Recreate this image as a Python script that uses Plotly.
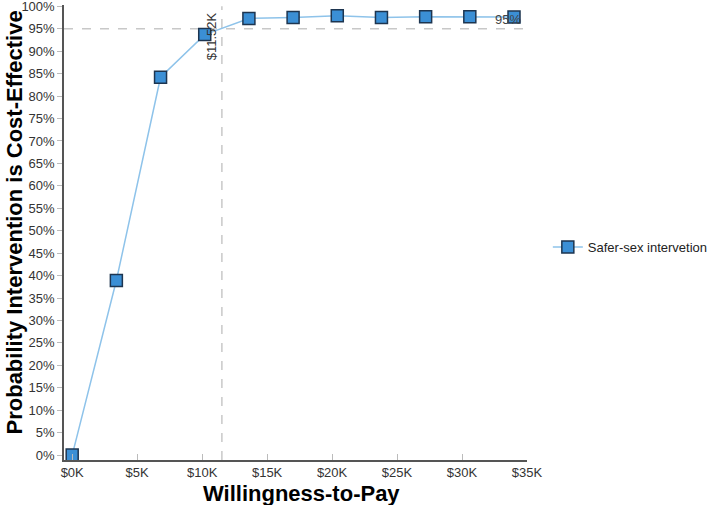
import plotly.graph_objects as go

# ── Data ──────────────────────────────────────────────────────────────────────
wtp_k = [0, 3.4, 6.8, 10.2, 13.6, 17.0, 20.4, 23.8, 27.2, 30.6, 34.0]
prob_ce = [0.0, 0.389, 0.842, 0.937, 0.973, 0.975, 0.979, 0.975, 0.977, 0.977, 0.976]
series_name = "Safer-sex intervetion"

threshold_prob = 0.95
threshold_wtp = 11.52

x_ticks = [0, 5, 10, 15, 20, 25, 30, 35]
x_labels = ["$0K", "$5K", "$10K", "$15K", "$20K", "$25K", "$30K", "$35K"]
y_ticks = [i / 100 for i in range(0, 101, 5)]
y_labels = [f"{i}%" for i in range(0, 101, 5)]

# ── Style ─────────────────────────────────────────────────────────────────────
_FONT = "Liberation Sans, Arial, sans-serif"
_LINE = "#8ec3ea"
_MARK = "#3b8fd5"
_MARK_EDGE = "#1d3550"
_DASH = "#c8c8c8"
_TICK = "#333333"

fig = go.Figure()

# reference lines (95% and the crossing WTP)
fig.add_trace(go.Scatter(
    x=[-0.63, 35.0], y=[threshold_prob, threshold_prob],
    mode="lines", line=dict(color=_DASH, width=1.5, dash="dash"),
    showlegend=False, hoverinfo="skip",
))
fig.add_trace(go.Scatter(
    x=[threshold_wtp, threshold_wtp], y=[-0.011, 1.0],
    mode="lines", line=dict(color=_DASH, width=1.5, dash="dash"),
    showlegend=False, hoverinfo="skip",
))

fig.add_trace(go.Scatter(
    x=wtp_k, y=prob_ce,
    mode="lines+markers",
    name=series_name,
    line=dict(color=_LINE, width=1.5),
    marker=dict(symbol="square", size=12, color=_MARK,
                line=dict(color=_MARK_EDGE, width=1.5)),
    cliponaxis=False,
))

fig.add_annotation(
    x=35.0, y=threshold_prob, xref="x", yref="y",
    text=f"{int(threshold_prob * 100)}%", showarrow=False,
    xanchor="right", yanchor="bottom", xshift=-4, yshift=0,
    font=dict(family=_FONT, size=13, color="#444444"),
)
fig.add_annotation(
    x=threshold_wtp, y=0.992, xref="x", yref="y",
    text=f"${threshold_wtp:.2f}K", showarrow=False, textangle=-90,
    xanchor="right", yanchor="top", xshift=0,
    font=dict(family=_FONT, size=13, color="#333333"),
)

# axis titles
fig.add_annotation(
    x=0.514, y=-0.073, xref="paper", yref="paper",
    text="<b>Willingness-to-Pay</b>", showarrow=False,
    xanchor="center", yanchor="middle",
    font=dict(family=_FONT, size=22, color="#000000"),
)
fig.add_annotation(
    x=-0.108, y=0.522, xref="paper", yref="paper",
    text="<b>Probability Intervention is Cost-Effective</b>", showarrow=False,
    textangle=-90, xanchor="center", yanchor="middle",
    font=dict(family=_FONT, size=22, color="#000000"),
)

fig.update_layout(
    width=718, height=505,
    margin=dict(l=64, r=189, t=5, b=45),
    plot_bgcolor="white", paper_bgcolor="white",
    font=dict(family=_FONT, size=13, color=_TICK),
    showlegend=True,
    legend=dict(
        x=1.045, y=0.468, xanchor="left", yanchor="middle",
        font=dict(family=_FONT, size=13, color="#222222"),
        bgcolor="rgba(0,0,0,0)",
    ),
    xaxis=dict(
        range=[-0.63, 35.0], automargin=False,
        tickvals=x_ticks, ticktext=x_labels,
        ticks="inside", ticklen=6, tickcolor="#bbbbbb", tickwidth=1,
        showgrid=False, zeroline=False,
        showline=True, linecolor="#555555", linewidth=1.5,
        tickfont=dict(family=_FONT, size=13, color=_TICK),
    ),
    yaxis=dict(
        range=[-0.011, 1.003], automargin=False,
        tickvals=y_ticks, ticktext=y_labels, ticklabeloverflow="allow",
        ticks="outside", ticklen=5, tickcolor="#bbbbbb", tickwidth=1,
        showgrid=False, zeroline=False,
        showline=True, linecolor="#555555", linewidth=1.5,
        tickfont=dict(family=_FONT, size=13, color=_TICK),
    ),
)

# the page's default body margin would shift the 718x505 figure
fig.write_html("out.html", config={"displayModeBar": False},
               post_script="document.body.style.margin = '0';")
